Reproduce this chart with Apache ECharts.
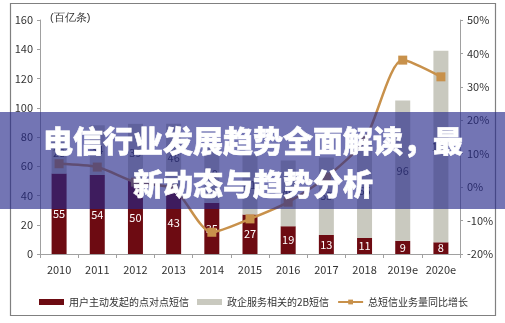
<!DOCTYPE html>
<html>
<head>
<meta charset="utf-8">
<script src="https://cdn.jsdelivr.net/npm/echarts@6/dist/echarts.min.js"></script>
<style>
html,body{margin:0;padding:0;background:#fff;}
#c{width:505px;height:323px;}
</style>
</head>
<body>
<div id="c"></div>
<script>
var categories = ['2010','2011','2012','2013','2014','2015','2016','2017','2018','2019e','2020e'];
var p2pValues = [55, 54, 50, 43, 35, 27, 19, 13, 11, 9, 8];
var b2bValues = [28, 34, 39, 46, 40, 41, 45, 53, 65, 96, 131];
var growthValues = [7, 6, 1.5, -0.5, -13.5, -9.5, -4.5, 3, 14, 38, 33];
var leftTicks = {min: 0, max: 160, interval: 20};
var rightTicks = {min: -20, max: 50, interval: 10};
var seriesNames = ['用户主动发起的点对点短信', '政企服务相关的2B短信', '总短信业务量同比增长'];
var unitLabel = '(百亿条)';
var bannerLines = ['电信行业发展趋势全面解读，最', '新动态与趋势分析'];

var FONT = '"Noto Sans CJK SC", "Noto Sans", sans-serif';
var chart = echarts.init(document.getElementById('c'), null, {renderer: 'canvas'});
var axisGray = '#a0a0a0';
var option = {
  animation: false,
  textStyle: {fontFamily: FONT},
  grid: {left: 40, right: 45, top: 20, bottom: 69, containLabel: false},
  legend: {
    left: 34, top: 292, itemWidth: 25, itemHeight: 6, itemGap: 8,
    textStyle: {fontSize: 10, color: '#333', fontFamily: FONT},
    data: [
      {name: seriesNames[0], icon: 'rect'},
      {name: seriesNames[1], icon: 'rect'},
      {name: seriesNames[2]}
    ]
  },
  xAxis: {
    type: 'category', data: categories,
    axisLine: {lineStyle: {color: axisGray, width: 1}},
    axisTick: {show: true, alignWithLabel: false, length: 4, lineStyle: {color: axisGray}},
    axisLabel: {fontSize: 11, color: '#333', margin: 10, interval: 0, hideOverlap: false}
  },
  yAxis: [
    {
      type: 'value', min: leftTicks.min, max: leftTicks.max, interval: leftTicks.interval,
      splitLine: {show: false},
      axisLine: {show: true, lineStyle: {color: axisGray}},
      axisTick: {show: true, length: 3, lineStyle: {color: axisGray}},
      axisLabel: {fontSize: 11, color: '#333', margin: 7}
    },
    {
      type: 'value', min: rightTicks.min, max: rightTicks.max, interval: rightTicks.interval,
      position: 'right',
      splitLine: {show: false},
      axisLine: {show: true, lineStyle: {color: axisGray}},
      axisTick: {show: true, length: 3, lineStyle: {color: axisGray}},
      axisLabel: {fontSize: 11, color: '#333', margin: 7, formatter: '{value}%'}
    }
  ],
  series: [
    {
      name: seriesNames[0], type: 'bar', stack: 'sms', barWidth: 15,
      data: p2pValues,
      itemStyle: {color: '#6d0b12'},
      label: {show: true, position: 'inside', color: '#fff', fontSize: 11}
    },
    {
      name: seriesNames[1], type: 'bar', stack: 'sms', barWidth: 15,
      data: b2bValues,
      itemStyle: {color: '#c9c9bf'},
      label: {show: true, position: 'inside', color: '#3d3d3d', fontSize: 11}
    },
    {
      name: seriesNames[2], type: 'line', yAxisIndex: 1,
      data: growthValues, smooth: 0.25,
      symbol: 'rect', symbolSize: 9,
      itemStyle: {color: '#c8914b'},
      lineStyle: {color: '#c8914b', width: 2.5},
      z: 5
    }
  ],
  graphic: [
    {type: 'text', left: 50, top: 12, style: {text: unitLabel, fontSize: 11, fill: '#333', font: '11px ' + FONT}},
    {type: 'rect', shape: {x: 10.5, y: 3.5, width: 485, height: 312}, style: {fill: 'none', stroke: '#808080', lineWidth: 1.2}, z: 10},
    {type: 'rect', shape: {x: 0, y: 112, width: 505, height: 97}, style: {fill: 'rgba(36,39,138,0.64)'}, z: 100},
    {type: 'text', x: 253, y: 141, z: 101, style: {text: bannerLines[0], fill: '#fff', font: '900 30px ' + FONT, textAlign: 'center', textVerticalAlign: 'middle', stroke: '#fff', lineWidth: 0.6, shadowColor: 'rgba(0,0,0,0.45)', shadowBlur: 2}},
    {type: 'text', x: 253, y: 184, z: 101, style: {text: bannerLines[1], fill: '#fff', font: '900 30px ' + FONT, textAlign: 'center', textVerticalAlign: 'middle', stroke: '#fff', lineWidth: 0.6, shadowColor: 'rgba(0,0,0,0.45)', shadowBlur: 2}}
  ]
};
chart.setOption(option);
</script>
</body>
</html>
